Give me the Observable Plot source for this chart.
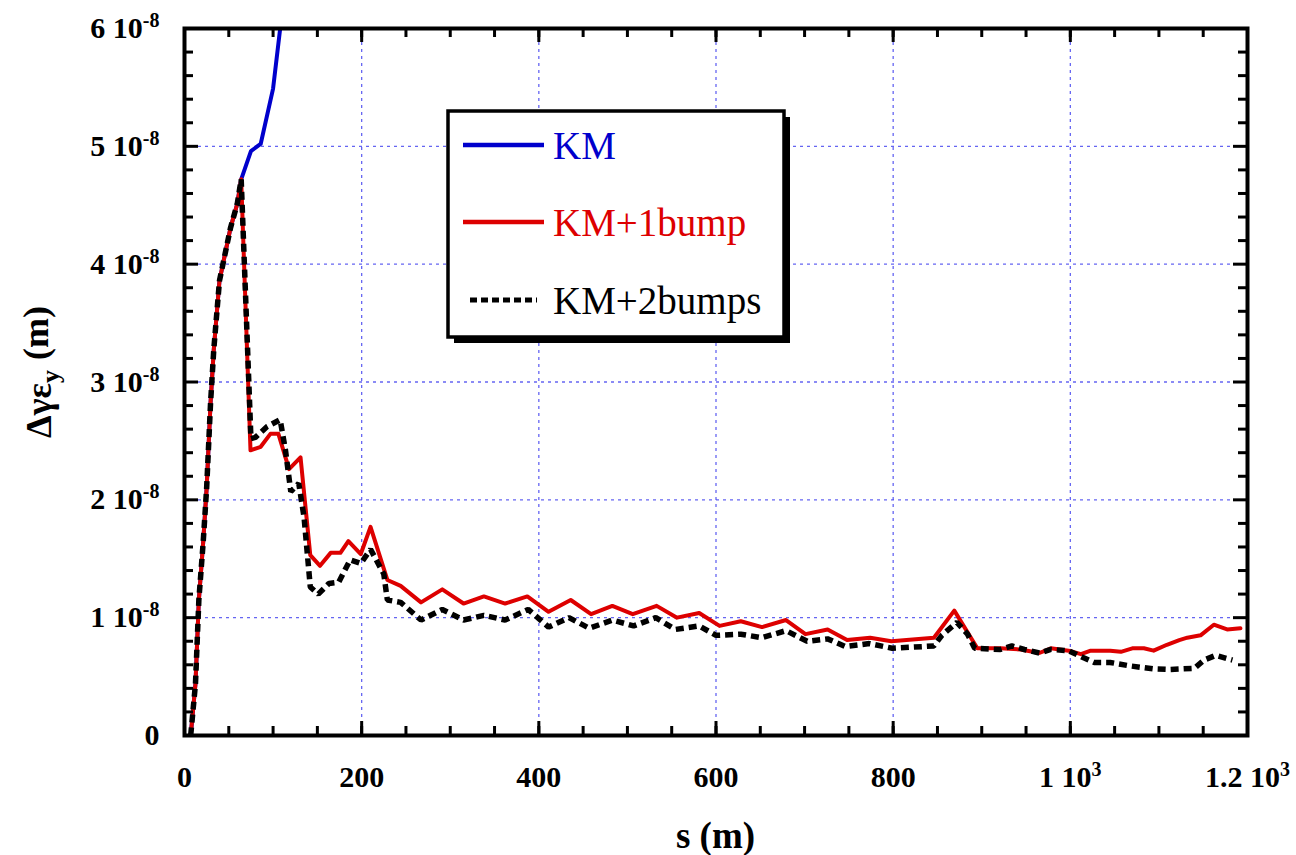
<!DOCTYPE html>
<html>
<head>
<meta charset="utf-8">
<script src="https://cdn.jsdelivr.net/npm/d3@7"></script>
<script src="https://cdn.jsdelivr.net/npm/@observablehq/plot@0.6"></script>
<style>
  html, body { margin: 0; padding: 0; background: #fff; }
  svg { display: block; }
</style>
</head>
<body>
<div id="chart"></div>
<script>
// ---- Data (s in m, values in units of 1e-8 m) ----
const rise_s = [7, 12.4, 16.2, 21, 25, 29.4, 33, 39.5, 52, 59.5, 64];
const rise_v = [0, 0.44, 1.15, 1.63, 2.1, 2.82, 3.27, 3.86, 4.31, 4.51, 4.72];

const km_s = [75, 86, 100, 108, 116];
const km_v = [4.96, 5.02, 5.49, 6.0, 6.5];

const bump1_s = [74.5, 86, 97, 106, 118, 131, 142, 153, 165, 176, 185, 199, 210, 229, 244, 267, 291, 315, 338, 362, 387, 411, 436, 459, 483, 506, 533, 556, 581, 604, 628, 652, 679, 701, 726, 748, 774, 798, 846, 869, 895, 921, 944, 965, 978, 998, 1012, 1023, 1045, 1057, 1070, 1083, 1094, 1109, 1123, 1132, 1147, 1162, 1177, 1192];
const bump1_v = [2.42, 2.45, 2.56, 2.56, 2.26, 2.36, 1.53, 1.44, 1.55, 1.55, 1.65, 1.54, 1.77, 1.32, 1.27, 1.13, 1.24, 1.12, 1.18, 1.12, 1.18, 1.05, 1.15, 1.03, 1.10, 1.03, 1.10, 1.00, 1.04, 0.93, 0.97, 0.92, 0.98, 0.86, 0.90, 0.81, 0.83, 0.80, 0.83, 1.06, 0.74, 0.74, 0.73, 0.70, 0.74, 0.72, 0.69, 0.72, 0.72, 0.71, 0.74, 0.74, 0.72, 0.77, 0.81, 0.83, 0.85, 0.94, 0.90, 0.91];

const bump2_s = [75, 80, 93, 108, 114, 120, 129, 135, 142, 151, 163, 174, 187, 199, 210, 225, 229, 244, 267, 291, 315, 338, 362, 388, 411, 434, 457, 483, 507, 532, 554, 581, 600, 628, 652, 679, 703, 726, 746, 773, 799, 846, 855, 872, 884, 892, 921, 934, 948, 965, 978, 998, 1015, 1027, 1045, 1068, 1094, 1113, 1140, 1151, 1164, 1183];
const bump2_v = [2.52, 2.53, 2.62, 2.68, 2.42, 2.07, 2.14, 1.85, 1.26, 1.20, 1.29, 1.30, 1.49, 1.46, 1.58, 1.37, 1.15, 1.13, 0.98, 1.07, 0.98, 1.02, 0.98, 1.07, 0.92, 1.00, 0.91, 0.98, 0.93, 1.00, 0.90, 0.93, 0.85, 0.86, 0.83, 0.89, 0.80, 0.82, 0.755, 0.78, 0.74, 0.76, 0.85, 0.96, 0.86, 0.74, 0.73, 0.76, 0.73, 0.70, 0.73, 0.72, 0.66, 0.62, 0.62, 0.59, 0.565, 0.56, 0.57, 0.64, 0.68, 0.64];

const seriesNames = ["KM", "KM+1bump", "KM+2bumps"];
const seriesColors = ["#0000cc", "#dd0000", "#000000"];

const xTicks = [0, 200, 400, 600, 800, 1000, 1200];
const xTickLabels = ["0", "200", "400", "600", "800", "1\u00a010^3", "1.2\u00a010^3"];
const yTicks = [0, 1, 2, 3, 4, 5, 6];
const yTickLabels = ["0", "1\u00a010^-8", "2\u00a010^-8", "3\u00a010^-8", "4\u00a010^-8", "5\u00a010^-8", "6\u00a010^-8"];
const xMinor = d3.range(0, 1201, 50);
const yMinor = d3.range(0, 6.01, 0.2);

const xTitle = "s (m)";
const yTitleMain = "\u0394\u03b3\u03b5", yTitleSub = "y", yTitleUnit = "(m)";

// ---- Build tables ----
const toRows = (s, v) => s.map((d, i) => ({s: d, v: v[i]}));
const rise = toRows(rise_s, rise_v);
const kmRows = rise.concat(toRows(km_s, km_v));
const b1Rows = rise.concat(toRows(bump1_s, bump1_v));
const b2Rows = rise.concat(toRows(bump2_s, bump2_v));

const W = 1296, H = 855;
const mL = 184, mR = 49, mT = 28, mB = 120;
const pw = W - mL - mR, ph = H - mT - mB;
const FONT = "'Liberation Serif', 'Times New Roman', serif";

const xLab = new Map(xTicks.map((d, i) => [d, xTickLabels[i]]));
const yLab = new Map(yTicks.map((d, i) => [d, yTickLabels[i]]));
const isMajorY = d => Math.abs(d - Math.round(d)) < 1e-6;
const yMinorOnly = yMinor.filter(d => !isMajorY(d));

const gridStyle = {stroke: "#4a4af0", strokeOpacity: 0.85, strokeWidth: 1.3, strokeDasharray: "3,4"};
const tk = {stroke: "#000", strokeWidth: 3};

const chart = Plot.plot({
  width: W, height: H,
  marginLeft: mL, marginRight: mR, marginTop: mT, marginBottom: mB,
  style: {fontFamily: FONT, background: "#fff", color: "#000"},
  x: {domain: [0, 1200], axis: null, label: null},
  y: {domain: [0, 6], axis: null, label: null},
  marks: [
    Plot.gridX(xTicks.slice(1, -1), gridStyle),
    Plot.gridY(yTicks.slice(1, -1), gridStyle),
    Plot.line(kmRows, {x: "s", y: "v", stroke: seriesColors[0], strokeWidth: 4, clip: true}),
    Plot.line(b1Rows, {x: "s", y: "v", stroke: seriesColors[1], strokeWidth: 4, clip: true}),
    Plot.line(b2Rows, {x: "s", y: "v", stroke: seriesColors[2], strokeWidth: 5.5, strokeDasharray: "8,5",
      strokeLinecap: "butt", strokeLinejoin: "miter", clip: true}),
    // minor/major ticks, inward on all four sides
    Plot.tickX(xMinor, {x: d => d, insetTop: ph - 9, ...tk}),
    Plot.tickX(xTicks, {x: d => d, insetTop: ph - 14, ...tk}),
    Plot.tickX(xMinor, {x: d => d, insetBottom: ph - 9, ...tk}),
    Plot.tickX(xTicks, {x: d => d, insetBottom: ph - 14, ...tk}),
    Plot.tickY(yMinorOnly, {y: d => d, insetRight: pw - 9, ...tk}),
    Plot.tickY(yTicks, {y: d => d, insetRight: pw - 14, ...tk}),
    Plot.tickY(yMinorOnly, {y: d => d, insetLeft: pw - 9, ...tk}),
    Plot.tickY(yTicks, {y: d => d, insetLeft: pw - 14, ...tk}),
    Plot.frame({stroke: "#000", strokeWidth: 4}),
    Plot.axisX(xTicks, {anchor: "bottom", tickSize: 0, tickPadding: 30, tickFormat: d => xLab.get(d),
      fontSize: 30, fontWeight: "bold", label: null}),
    Plot.axisY(yTicks, {anchor: "left", tickSize: 0, tickPadding: 25, tickFormat: d => yLab.get(d),
      fontSize: 30, fontWeight: "bold", label: null})
  ]
});

document.getElementById("chart").appendChild(chart);

const svg = d3.select(chart);
// superscripts in tick labels
svg.selectAll("text").each(function() {
  const t = this.textContent;
  if (!t.includes("^")) return;
  const [base, sup] = t.split("^");
  const sel = d3.select(this);
  sel.text(null);
  sel.append("tspan").text(base);
  sel.append("tspan").attr("dy", "-0.55em").attr("font-size", 20).text(sup);
});

// axis titles
svg.append("text")
  .attr("x", mL + pw / 2).attr("y", 848)
  .attr("text-anchor", "middle")
  .attr("font-family", FONT).attr("font-weight", "bold").attr("font-size", 37)
  .text(xTitle);

const yt = svg.append("text")
  .attr("transform", `translate(51, 372) rotate(-90)`)
  .attr("text-anchor", "middle")
  .attr("font-family", FONT).attr("font-weight", "bold").attr("font-size", 36);
yt.append("tspan").text(yTitleMain);
yt.append("tspan").attr("dy", "0.3em").attr("font-size", 26).text(yTitleSub);
yt.append("tspan").attr("dy", "-0.3em").attr("dx", 10).text(yTitleUnit);

// legend
const lg = svg.append("g");
const bx = 448, by = 111, bw = 336, bh = 226;
lg.append("rect").attr("x", bx + 6).attr("y", by + 6).attr("width", bw).attr("height", bh).attr("fill", "#000");
lg.append("rect").attr("x", bx).attr("y", by).attr("width", bw).attr("height", bh)
  .attr("fill", "#fff").attr("stroke", "#000").attr("stroke-width", 3.5);
const rowsY = [145, 222, 300];
seriesNames.forEach((name, i) => {
  const y = rowsY[i];
  lg.append("line")
    .attr("x1", i === 2 ? 470 : 463).attr("x2", i === 2 ? 537 : 544)
    .attr("y1", y).attr("y2", y)
    .attr("stroke", seriesColors[i]).attr("stroke-width", i === 2 ? 5 : 4.5)
    .attr("stroke-dasharray", i === 2 ? "7,4" : null);
  lg.append("text").attr("x", 553).attr("y", y + 14)
    .attr("text-anchor", "start")
    .attr("font-family", FONT).attr("font-weight", "normal")
    .attr("font-size", 39).attr("fill", seriesColors[i]).text(name);
});
</script>
</body>
</html>
